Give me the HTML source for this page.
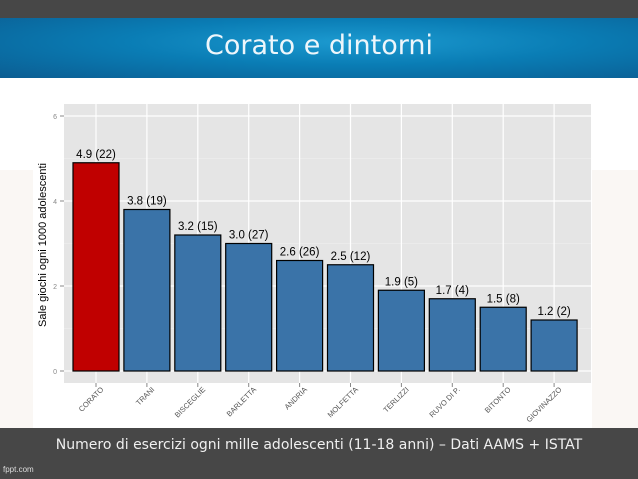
<!DOCTYPE html>
<html><head><meta charset="utf-8"><style>
body{margin:0;width:638px;height:479px;overflow:hidden;background:#fff;font-family:"Liberation Sans",sans-serif;position:relative}
.a{position:absolute}
</style></head><body>
<div class="a" style="left:0;top:0;width:638px;height:18px;background:#474747"></div>
<div class="a" style="left:0;top:18px;width:638px;height:60px;background:radial-gradient(ellipse at 55% 40%,#1c9ad0 0%,#0a7db5 45%,#0b5d92 100%)"></div>
<div class="a" style="left:0;top:30px;width:638px;text-align:center;color:#eef6fb;font-size:27px;font-family:'DejaVu Sans',sans-serif">Corato e dintorni</div>
<div class="a" style="left:0;top:170px;width:638px;height:258px;background:#faf7f4"></div>
<div class="a" style="left:33px;top:95px;width:559px;height:333px;background:#fff"></div>
<svg class="a" style="left:0;top:0" width="638" height="479" id="chart"></svg>
<div class="a" style="left:0;top:428px;width:638px;height:51px;background:#474747"></div>
<div class="a" style="left:0;top:437px;width:638px;text-align:center;color:#f0f0f0;font-size:14px;font-family:'DejaVu Sans',sans-serif">Numero di esercizi ogni mille adolescenti (11-18 anni) – Dati AAMS + ISTAT</div>
<div class="a" style="left:3px;top:465px;color:#ddd;font-size:8px">fppt.com</div>
<script>
const categories=["CORATO","TRANI","BISCEGLIE","BARLETTA","ANDRIA","MOLFETTA","TERLIZZI","RUVO DI P.","BITONTO","GIOVINAZZO"];
const values=[4.9,3.8,3.2,3.0,2.6,2.5,1.9,1.7,1.5,1.2];
const counts=[22,19,15,27,26,12,5,4,8,2];
const yTicks=[0,2,4,6];
const ns="http://www.w3.org/2000/svg",svg=document.getElementById('chart');
function mk(t,a,txt){const e=document.createElementNS(ns,t);for(const k in a)e.setAttribute(k,a[k]);if(txt!==undefined)e.textContent=txt;svg.appendChild(e);return e;}
const px0=64,px1=591,py0=104,py1=383;
const y=v=>371-v*42.5;
const step=50.9,x=i=>96+i*step,bw=46;
let e=mk('rect',{x:px0,y:py0,width:px1-px0,height:py1-py0,fill:'#e5e5e5'});

[1,3,5].forEach(v=>mk('line',{x1:px0,x2:px1,y1:y(v),y2:y(v),stroke:'#f2f2f2','stroke-width':0.6}));
yTicks.forEach(v=>{mk('line',{x1:px0,x2:px1,y1:y(v),y2:y(v),stroke:'#fff','stroke-width':1.2});
 mk('line',{x1:60,x2:64,y1:y(v),y2:y(v),stroke:'#888'});
 e=mk('text',{x:57,y:y(v)+3,'font-size':7,fill:'#888','text-anchor':'end'},v);
 });
categories.forEach((c,i)=>mk('line',{x1:x(i),x2:x(i),y1:py0,y2:py1,stroke:'#fff','stroke-width':1.2}));
categories.forEach((c,i)=>{
 e=mk('rect',{x:x(i)-bw/2,y:y(values[i]),width:bw,height:y(0)-y(values[i]),fill:i==0?'#c00000':'#3a73a8',stroke:'#000','stroke-width':1.2});
 
 e=mk('text',{x:x(i),y:y(values[i])-5,'font-size':11.5,'text-anchor':'middle',fill:'#000'},values[i].toFixed(1)+' ('+counts[i]+')');
 
 mk('line',{x1:x(i),x2:x(i),y1:py1,y2:py1+4,stroke:'#888'});
 e=mk('text',{x:x(i)+8,y:py1+7,'font-size':7.5,fill:'#555','text-anchor':'end',transform:`rotate(-45 ${x(i)+8} ${py1+7})`},c);
 
});
e=mk('text',{x:46,y:245,'font-size':11,fill:'#000','text-anchor':'middle',transform:'rotate(-90 46 245)'},'Sale giochi ogni 1000 adolescenti');

</script>
</body></html>
